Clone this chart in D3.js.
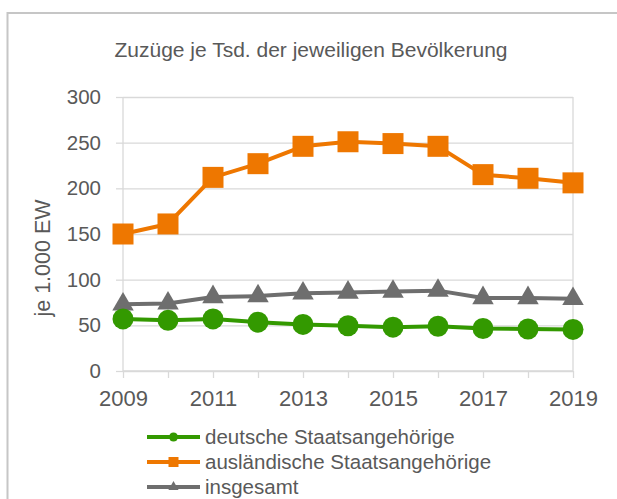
<!DOCTYPE html>
<html>
<head>
<meta charset="utf-8">
<script src="https://cdn.jsdelivr.net/npm/d3@7"></script>
<style>
  body { margin: 0; background: #fff; }
  text { font-family: "Liberation Sans", Arial, sans-serif; fill: #595959; }
</style>
</head>
<body>
<script>
// Zuzüge je Tsd. der jeweiligen Bevölkerung
var years = [2009, 2010, 2011, 2012, 2013, 2014, 2015, 2016, 2017, 2018, 2019];
var yearLabels = [2009, 2011, 2013, 2015, 2017, 2019];
var yTicks = [0, 50, 100, 150, 200, 250, 300];

var deutsche = [57, 55.5, 57, 53.5, 51, 49.5, 48, 49, 46.5, 46, 45.5];
var auslaendische = [150, 161, 212, 227, 246, 251, 249, 246, 215, 211, 206];
var insgesamt = [73, 74, 81, 82, 85, 86, 87, 88, 80, 80, 79];

var seriesNames = ["deutsche Staatsangehörige", "ausländische Staatsangehörige", "insgesamt"];

var width = 617, height = 499;
var plot = {left: 123, right: 573, top: 97, bottom: 371};

var svg = d3.select("body").append("svg")
    .attr("width", width)
    .attr("height", height);

// outer frame (only top and left edge visible)
svg.append("path")
    .attr("d", "M7.5," + height + "V13H" + width)
    .attr("fill", "none")
    .attr("stroke", "#c6c6c6")
    .attr("stroke-width", 2);

var x = d3.scalePoint()
    .domain(years)
    .range([plot.left, plot.right]);

var y = d3.scaleLinear()
    .domain([0, 300])
    .range([plot.bottom, plot.top]);

// horizontal gridlines + y labels
var yAxis = d3.axisLeft(y)
    .tickValues(yTicks)
    .tickSize(plot.left - 116)
    .tickPadding(15);

var gy = svg.append("g")
    .attr("transform", "translate(" + plot.left + ",0)")
    .call(yAxis);
gy.select(".domain").remove();
gy.selectAll(".tick line").clone()
    .attr("x1", 0)
    .attr("x2", plot.right - plot.left);
gy.selectAll(".tick line")
    .attr("stroke", "#d9d9d9")
    .attr("stroke-width", 1.3);
gy.selectAll(".tick text")
    .style("font-size", "20.5px")
    .attr("fill", "#595959");

// vertical lines at left and right of plot
svg.selectAll("line.vline")
    .data([years[0], years[years.length - 1]])
    .enter().append("line")
    .attr("class", "vline")
    .attr("x1", function(d) { return x(d); })
    .attr("x2", function(d) { return x(d); })
    .attr("y1", plot.top)
    .attr("y2", plot.bottom)
    .attr("stroke", "#d9d9d9")
    .attr("stroke-width", 1.3);

// x axis
var xAxis = d3.axisBottom(x)
    .tickSize(7)
    .tickPadding(12)
    .tickFormat(function(d) { return yearLabels.indexOf(d) >= 0 ? d : ""; });

var gx = svg.append("g")
    .attr("transform", "translate(0," + plot.bottom + ")")
    .call(xAxis);
gx.select(".domain")
    .attr("d", "M" + plot.left + ",0H" + plot.right)
    .attr("stroke", "#d9d9d9")
    .attr("stroke-width", 1.3);
gx.selectAll(".tick line")
    .attr("stroke", "#d9d9d9")
    .attr("stroke-width", 1.3);
gx.selectAll(".tick text")
    .style("font-size", "22px")
    .attr("fill", "#595959");

// titles
svg.append("text")
    .attr("x", 311)
    .attr("y", 57)
    .attr("text-anchor", "middle")
    .style("font-size", "21px")
    .text("Zuzüge je Tsd. der jeweiligen Bevölkerung");

svg.append("text")
    .attr("transform", "translate(50,258) rotate(-90)")
    .attr("text-anchor", "middle")
    .style("font-size", "21.5px")
    .text("je 1.000 EW");

// series
var series = [
  {name: seriesNames[2], values: insgesamt, color: "#6e6e6e", symbol: d3.symbolTriangle, size: 200, small: 45},
  {name: seriesNames[1], values: auslaendische, color: "#ee7700", symbol: d3.symbolSquare, size: 441, small: 100},
  {name: seriesNames[0], values: deutsche, color: "#339900", symbol: d3.symbolCircle, size: 346, small: 64}
];

var line = d3.line()
    .x(function(d, i) { return x(years[i]); })
    .y(function(d) { return y(d); });

series.forEach(function(s) {
  var g = svg.append("g");
  g.append("path")
      .attr("d", line(s.values))
      .attr("fill", "none")
      .attr("stroke", s.color)
      .attr("stroke-width", 4)
      .attr("stroke-linejoin", "round");
  g.selectAll("path.mark")
      .data(s.values)
      .enter().append("path")
      .attr("class", "mark")
      .attr("d", d3.symbol().type(s.symbol).size(s.size))
      .attr("transform", function(d, i) { return "translate(" + x(years[i]) + "," + y(d) + ")"; })
      .attr("fill", s.color);
});

// legend
var legendOrder = [series[2], series[1], series[0]];
var legend = svg.append("g");
legendOrder.forEach(function(s, i) {
  var ly = 437 + i * 25;
  legend.append("line")
      .attr("x1", 147).attr("x2", 200)
      .attr("y1", ly).attr("y2", ly)
      .attr("stroke", s.color)
      .attr("stroke-width", 4);
  legend.append("path")
      .attr("d", d3.symbol().type(s.symbol).size(s.small))
      .attr("transform", "translate(173.5," + ly + ")")
      .attr("fill", s.color);
  legend.append("text")
      .attr("x", 205)
      .attr("y", ly + 7)
      .style("font-size", "20.5px")
      .text(s.name);
});
</script>
</body>
</html>
